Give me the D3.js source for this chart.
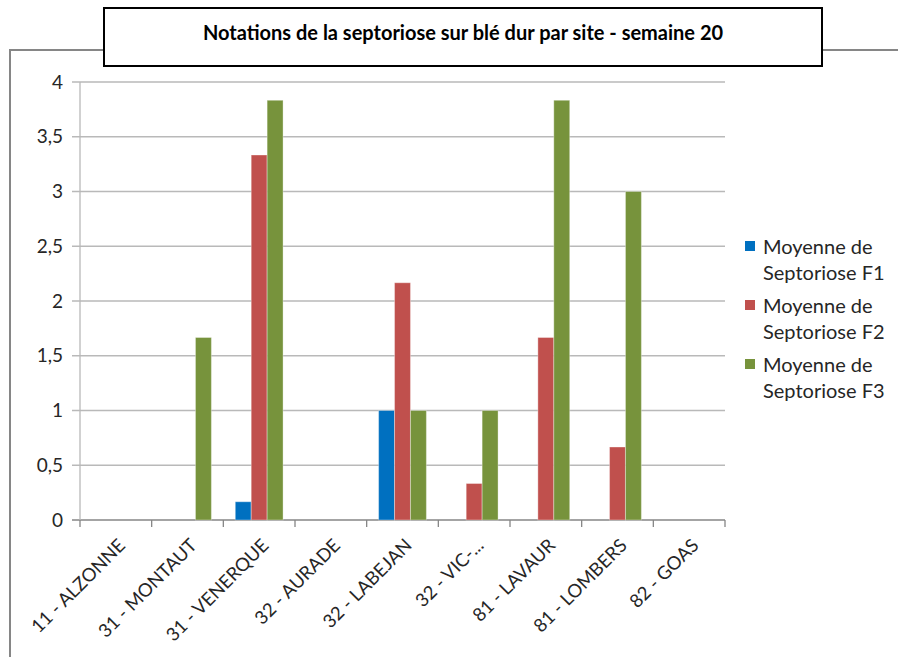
<!DOCTYPE html>
<html>
<head>
<meta charset="utf-8">
<script src="https://cdn.jsdelivr.net/npm/d3@7"></script>
<style>
  body { margin: 0; background: #fff; }
  svg { display: block; }
  text { font-family: "Lato", "Open Sans", sans-serif; fill: #262626; }
</style>
</head>
<body>
<script>
// data
const sites = ["11 - ALZONNE", "31 - MONTAUT", "31 - VENERQUE", "32 - AURADE", "32 - LABEJAN",
  "32 - VIC-...", "81 - LAVAUR", "81 - LOMBERS", "82 - GOAS"]
const seriesNames = ["Moyenne de Septoriose F1", "Moyenne de Septoriose F2", "Moyenne de Septoriose F3"]
const f1 = [0, 0, 0.1667, 0, 1, 0, 0, 0, 0]
const f2 = [0, 0, 3.3333, 0, 2.1667, 0.3333, 1.6667, 0.6667, 0]
const f3 = [0, 1.6667, 3.8333, 0, 1, 1, 3.8333, 3, 0]
const yTicks = [0, 0.5, 1, 1.5, 2, 2.5, 3, 3.5, 4]
const colors = ["#0070c0", "#c0504d", "#77933c"]
const title = "Notations de la septoriose sur blé dur par site - semaine 20"

const width = 898, height = 657
const plot = { left: 80, right: 725, top: 82, bottom: 520 }

const svg = d3.select("body").append("svg")
  .attr("width", width)
  .attr("height", height)

// outer chart frame
svg.append("rect")
  .attr("x", 10).attr("y", 50)
  .attr("width", 900).attr("height", 620)
  .attr("fill", "none")
  .attr("stroke", "#868686")
  .attr("stroke-width", 2)

const x = d3.scaleBand().domain(sites).range([plot.left, plot.right])
const inner = d3.scaleBand().domain(d3.range(3)).range([0, x.bandwidth()])
  .paddingOuter(0.75).paddingInner(0)
const y = d3.scaleLinear().domain([0, 4]).range([plot.bottom, plot.top])

// gridlines
svg.append("g")
  .selectAll("line")
  .data(yTicks)
  .enter().append("line")
  .attr("x1", plot.left - 8)
  .attr("x2", plot.right)
  .attr("y1", d => y(d))
  .attr("y2", d => y(d))
  .attr("stroke", d => d === 0 ? "#868686" : "#b9b9b9")
  .attr("stroke-width", 1.3)

// y axis line
svg.append("line")
  .attr("x1", plot.left).attr("x2", plot.left)
  .attr("y1", plot.top).attr("y2", plot.bottom)
  .attr("stroke", "#b9b9b9").attr("stroke-width", 1.3)

svg.append("g")
  .selectAll("text")
  .data(yTicks)
  .enter().append("text")
  .attr("x", plot.left - 17)
  .attr("y", d => y(d))
  .attr("dy", "0.35em")
  .attr("text-anchor", "end")
  .style("font-size", "19px")
  .text(d => String(d).replace(".", ","))

// x ticks at category boundaries
const bounds = sites.map(s => x(s)).concat([plot.right])
svg.append("g")
  .selectAll("line")
  .data(bounds)
  .enter().append("line")
  .attr("x1", d => d).attr("x2", d => d)
  .attr("y1", plot.bottom).attr("y2", plot.bottom + 7)
  .attr("stroke", "#868686").attr("stroke-width", 1.3)

svg.append("g")
  .selectAll("text")
  .data(sites)
  .enter().append("text")
  .attr("transform", d => `translate(${x(d) + x.bandwidth() / 2 + 6}, ${plot.bottom + 22}) rotate(-45)`)
  .attr("text-anchor", "end")
  .attr("dy", "0.35em")
  .style("font-size", "18.5px")
  .text(d => d)

// bars
const series = [f1, f2, f3]
const barData = []
series.forEach((vals, si) => vals.forEach((v, ci) => {
  if (v > 0) barData.push({ site: sites[ci], s: si, v: v })
}))

svg.append("g")
  .selectAll("rect")
  .data(barData)
  .enter().append("rect")
  .attr("x", d => x(d.site) + inner(d.s))
  .attr("y", d => y(d.v))
  .attr("width", inner.bandwidth())
  .attr("height", d => y(0) - y(d.v))
  .attr("fill", d => colors[d.s])
  .attr("stroke", "rgba(255,255,255,0.35)")
  .attr("stroke-width", 1)

// title box
svg.append("rect")
  .attr("x", 104).attr("y", 8)
  .attr("width", 718).attr("height", 58)
  .attr("fill", "#fff")
  .attr("stroke", "#000")
  .attr("stroke-width", 2)

svg.append("text")
  .attr("x", 463).attr("y", 33)
  .attr("text-anchor", "middle")
  .attr("dy", "0.35em")
  .style("font-size", "20px")
  .style("font-weight", "bold")
  .style("fill", "#000")
  .text(title)

// legend
const legend = svg.append("g")
  .selectAll("g")
  .data(seriesNames)
  .enter().append("g")
  .attr("transform", (d, i) => `translate(745, ${241 + i * 59})`)

legend.append("rect")
  .attr("width", 10).attr("height", 10)
  .attr("fill", (d, i) => colors[i])

legend.append("text")
  .selectAll("tspan")
  .data(d => ["Moyenne de", d.replace("Moyenne de ", "")])
  .enter().append("tspan")
  .attr("x", 18)
  .attr("y", (d, i) => 6 + i * 26)
  .attr("dy", "0.35em")
  .style("font-size", "20px")
  .text(d => d)
</script>
</body>
</html>
